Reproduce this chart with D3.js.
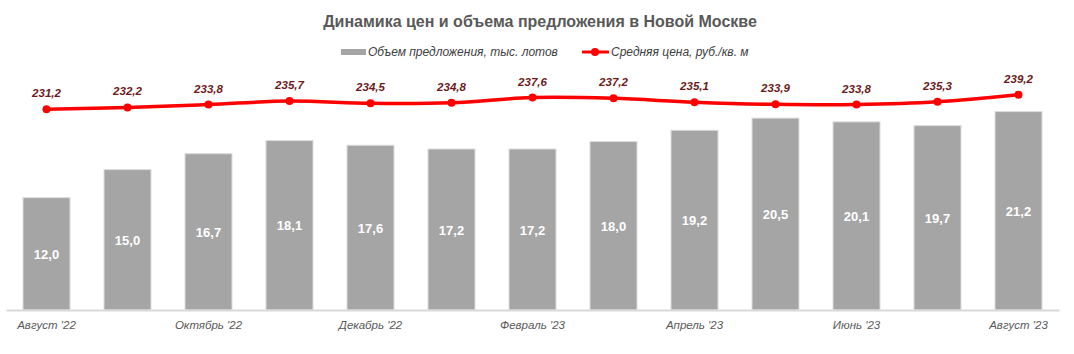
<!DOCTYPE html>
<html>
<head>
<meta charset="utf-8">
<script src="https://cdn.jsdelivr.net/npm/d3@7"></script>
<style>
  body { margin: 0; background: #fff; }
  svg { display: block; font-family: "Liberation Sans", Arial, sans-serif; }
</style>
</head>
<body>
<div id="chart"></div>
<script>
var width = 1074;
var height = 354;

var months = ["Август '22", "Сентябрь '22", "Октябрь '22", "Ноябрь '22", "Декабрь '22", "Январь '23",
  "Февраль '23", "Март '23", "Апрель '23", "Май '23", "Июнь '23", "Июль '23", "Август '23"];
var volume = [12.0, 15.0, 16.7, 18.1, 17.6, 17.2, 17.2, 18.0, 19.2, 20.5, 20.1, 19.7, 21.2];
var price = [231.2, 232.2, 233.8, 235.7, 234.5, 234.8, 237.6, 237.2, 235.1, 233.9, 233.8, 235.3, 239.2];
var shownTicks = ["Август '22", "Октябрь '22", "Декабрь '22", "Февраль '23", "Апрель '23", "Июнь '23", "Август '23"];

var title = "Динамика цен и объема предложения в Новой Москве";
var volumeName = "Объем предложения, тыс. лотов";
var priceName = "Средняя цена, руб./кв. м";

var fmt = function(v) { return d3.format(".1f")(v).replace(".", ","); };

var svg = d3.select("#chart").append("svg").attr("width", width).attr("height", height);

var x = d3.scaleBand().domain(months).range([6, 1059]).paddingInner(0.42).paddingOuter(0.21);
var yVol = d3.scaleLinear().domain([0, 25]).range([310, 76]);
var yPrice = d3.scaleLinear().domain([231.2, 239.2]).range([109.3, 94.7]);

// title
svg.append("text").attr("x", 540).attr("y", 27).attr("text-anchor", "middle")
  .attr("font-size", 16).attr("font-weight", "bold").attr("fill", "#595959").text(title);

// legend
var legend = svg.append("g").attr("font-size", 12).attr("font-style", "italic").attr("fill", "#404040");
legend.append("rect").attr("x", 341).attr("y", 49).attr("width", 25).attr("height", 6).attr("fill", "#a5a5a5");
legend.append("text").attr("x", 368).attr("y", 56).text(volumeName);
legend.append("line").attr("x1", 582).attr("x2", 609).attr("y1", 52).attr("y2", 52)
  .attr("stroke", "#ff0000").attr("stroke-width", 3);
legend.append("circle").attr("cx", 595).attr("cy", 52).attr("r", 4).attr("fill", "#ff0000");
legend.append("text").attr("x", 611).attr("y", 56).text(priceName);

// bars
svg.append("g").selectAll("rect").data(months).enter().append("rect")
  .attr("x", function(d) { return x(d); })
  .attr("y", function(d, i) { return yVol(volume[i]); })
  .attr("width", x.bandwidth())
  .attr("height", function(d, i) { return yVol(0) - yVol(volume[i]); })
  .attr("fill", "#a5a5a5").attr("stroke", "#dcdcdc").attr("stroke-width", 1);

svg.append("g").selectAll("text").data(months).enter().append("text")
  .attr("x", function(d) { return x(d) + x.bandwidth() / 2; })
  .attr("y", function(d, i) { return (yVol(volume[i]) + yVol(0)) / 2 + 5; })
  .attr("text-anchor", "middle").attr("font-size", 13).attr("font-weight", "bold").attr("fill", "#ffffff")
  .text(function(d, i) { return fmt(volume[i]); });

// x axis
var xAxis = svg.append("g").attr("transform", "translate(0,310)")
  .call(d3.axisBottom(x).tickValues(shownTicks).tickSize(0).tickPadding(11));
xAxis.select(".domain").attr("stroke", "#d9d9d9").attr("stroke-width", 2);
xAxis.selectAll("text").attr("font-size", 11.5).attr("font-style", "italic").attr("fill", "#595959")
  .attr("font-family", "Liberation Sans, Arial, sans-serif");

// price line
var pts = months.map(function(m, i) { return [x(m) + x.bandwidth() / 2, yPrice(price[i])]; });
svg.append("path").datum(pts)
  .attr("d", d3.line().curve(d3.curveCatmullRom.alpha(0.5)))
  .attr("fill", "none").attr("stroke", "#ff0000").attr("stroke-width", 3.5);

svg.append("g").selectAll("circle").data(pts).enter().append("circle")
  .attr("cx", function(d) { return d[0]; }).attr("cy", function(d) { return d[1]; })
  .attr("r", 4).attr("fill", "#ff0000");

svg.append("g").selectAll("text").data(pts).enter().append("text")
  .attr("x", function(d) { return d[0]; }).attr("y", function(d) { return d[1] - 12; })
  .attr("text-anchor", "middle").attr("font-size", 11.5).attr("font-weight", "bold").attr("font-style", "italic")
  .attr("fill", "#6b1a1a")
  .text(function(d, i) { return fmt(price[i]); });
</script>
</body>
</html>
